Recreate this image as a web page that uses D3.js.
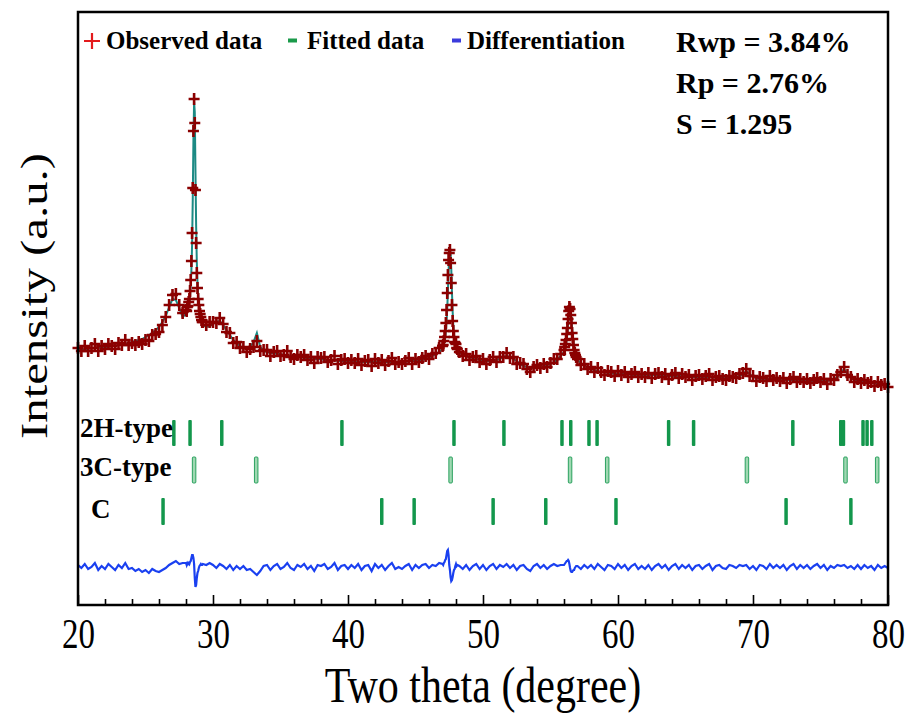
<!DOCTYPE html>
<html>
<head>
<meta charset="utf-8">
<script src="https://cdn.jsdelivr.net/npm/d3@7"></script>
<style>
body { margin: 0; background: #fff; }
text { font-family: "Liberation Serif", "Times New Roman", serif; }
</style>
</head>
<body>
<div id="chart"></div>
<script>
// pattern on a 0.25 degree grid from 20 to 80
var gridStart = 20, gridStep = 0.25;
var fitGrid = [
  255,255,256,256,257,257,257,258,
  258,258,259,259,260,261,261,262,
  263,264,265,266,268,270,272,275,
  278,283,289,298,306,305,297,288,
  291,303,405,380,293,280,278,279,
  281,283,284,280,275,270,265,262,
  259,257,256,258,263,272,258,254,
  253,252,252,251,251,250,250,249,
  249,248,248,247,247,247,246,246,
  246,245,245,245,245,244,244,244,
  244,243,243,243,243,243,243,243,
  243,243,243,243,243,243,243,243,
  243,243,244,244,244,244,245,246,
  247,249,251,253,256,274,350,294,
  258,252,251,249,248,247,246,245,
  244,244,244,245,245,246,248,249,
  248,246,244,241,239,238,237,237,
  237,238,239,240,241,243,245,249,
  253,271,294,258,245,242,239,237,
  236,235,234,233,233,232,232,231,
  231,231,231,231,230,230,230,230,
  230,230,230,230,229,229,229,229,
  229,229,229,229,229,228,228,228,
  228,228,228,228,228,227,227,227,
  227,227,227,228,229,231,234,231,
  228,227,226,226,226,226,226,225,
  225,225,225,225,225,225,224,224,
  224,224,224,224,224,224,224,225,
  226,228,232,236,231,227,225,224,
  224,223,223,222,222,221,221,220,
  219];
var obsGrid = [
  257,254,259,254,257,261,254,259,
  256,261,259,256,262,260,265,260,
  262,260,263,261,265,264,270,271,
  273,280,288,300,310,311,300,292,
  295,306,417,362,294,283,280,283,
  283,282,287,281,273,272,262,263,
  257,258,253,256,258,264,254,255,
  255,249,253,254,249,250,254,248,
  246,250,248,250,245,248,242,248,
  247,248,243,245,249,241,245,246,
  242,245,242,246,240,244,245,239,
  246,242,245,240,244,247,241,243,
  241,244,247,241,246,243,247,249,
  246,251,252,257,259,282,352,284,
  261,253,249,251,245,248,249,243,
  246,241,245,248,243,248,248,252,
  247,248,241,242,241,236,233,238,
  240,237,241,238,242,246,246,251,
  255,277,290,255,246,240,241,236,
  238,233,237,233,230,234,233,229,
  234,230,233,228,231,233,228,231,
  228,232,227,231,232,228,231,226,
  230,232,227,231,228,230,225,229,
  230,226,229,231,225,228,229,226,
  225,229,228,227,231,232,236,229,
  229,224,228,227,224,229,225,227,
  224,227,222,226,228,223,226,223,
  226,222,225,227,223,226,221,226,
  225,230,233,238,230,228,223,226,
  222,225,222,223,219,223,220,221,
  218];

// finer steps across the three strong peaks
var peakStep = 0.05;
var peak1Start = 28.0;
var peak1Fit = [291,292,294,296,299,303,309,319,335,360,405,465,503,493,435,380,343,323,310,301,293,289,285,283,281];
var peak1Obs = [295,294,298,299,303,306,314,325,344,372,417,474,506,482,415,362,332,317,306,300,294,291,288,285,283];
var peak2Start = 47.0;
var peak2Fit = [256,258,260,263,267,274,283,296,313,333,350,358,352,336,313,294,280,271,265,261,258,256,254];
var peak2Obs = [259,260,264,268,274,282,295,312,330,345,352,355,342,322,300,284,274,268,263,262,261,257,256];
var peak3Start = 56.0;
var peak3Fit = [253,255,257,260,265,271,279,288,295,297,294,287,277,270,263,258,253,250,247];
var peak3Obs = [255,258,261,265,271,277,286,294,298,296,290,282,272,266,260,255,252,250,248];

// reflection positions
var pos2H = [27.1,28.3,30.65,39.55,47.85,51.55,55.85,56.5,57.85,58.45,63.75,65.6,72.95,76.5,76.7,78.15,78.45,78.8];
var pos3C = [28.6,33.2,47.6,56.45,59.2,69.55,76.85,79.2];
var posC = [26.3,42.5,44.9,50.75,54.65,59.85,72.45,77.25];

var xMajor = [20,30,40,50,60,70,80];
var xMinor = [22,24,26,28,32,34,36,38,42,44,46,48,52,54,56,58,62,64,66,68,72,74,76,78];

var diffZero = 38;

var W = 909, H = 713;
var plot = {left: 78, right: 888, top: 12, bottom: 605};

var svg = d3.select("#chart").append("svg")
    .attr("width", W)
    .attr("height", H);

var x = d3.scaleLinear().domain([20, 80]).range([plot.left, plot.right]);
var y = d3.scaleLinear().domain([0, 593]).range([plot.bottom, plot.top]);

// merge grid + peak windows
var pts = [];
var seen = {};
function addPt(t, f, o) {
    t = +t.toFixed(2);
    if (seen[t]) return;
    seen[t] = true;
    pts.push({t: t, fit: f, obs: o});
}
fitGrid.forEach(function(f, i) { addPt(gridStart + i * gridStep, f, obsGrid[i]); });
[[peak1Start, peak1Fit, peak1Obs], [peak2Start, peak2Fit, peak2Obs], [peak3Start, peak3Fit, peak3Obs]]
    .forEach(function(p) {
        p[1].forEach(function(f, i) { addPt(p[0] + i * peakStep, f, p[2][i]); });
    });
pts.sort(function(a, b) { return a.t - b.t; });

// fitted line (under the observed crosses)
var fitLine = d3.line()
    .x(function(d) { return x(d.t); })
    .y(function(d) { return y(d.fit); });
svg.append("path")
    .datum(pts)
    .attr("d", fitLine)
    .attr("fill", "none")
    .attr("stroke", "#1c8a84")
    .attr("stroke-width", 2);

// observed crosses
svg.append("g").selectAll("path")
    .data(pts).enter()
    .append("path")
    .attr("transform", function(d) { return "translate(" + x(d.t) + "," + y(d.obs) + ")"; })
    .attr("d", "M-5.5,0H5.5M0,-6V6")
    .attr("stroke", "#8b0000")
    .attr("stroke-width", 2.6);

// difference curve
var diffLine = d3.line()
    .x(function(d) { return x(d.t); })
    .y(function(d) { return y(diffZero + d.obs - d.fit); });
svg.append("path")
    .datum(pts)
    .attr("d", diffLine)
    .attr("fill", "none")
    .attr("stroke", "#1a40f0")
    .attr("stroke-width", 2.2);

// reflection ticks
function tickRow(list, top, h, style) {
    var g = svg.append("g");
    g.selectAll("rect")
        .data(list).enter()
        .append("rect")
        .attr("x", function(d) { return x(d) - 1.75; })
        .attr("y", top)
        .attr("width", 3.5)
        .attr("height", h)
        .attr("rx", 1)
        .attr("fill", style.fill)
        .attr("stroke", style.stroke || "none")
        .attr("stroke-width", style.sw || 0);
}
tickRow(pos2H, 420, 26, {fill: "#13974c"});
tickRow(pos3C, 457, 26, {fill: "#9fd8b2", stroke: "#1a9a52", sw: 0.9});
tickRow(posC, 498, 27, {fill: "#13974c"});

svg.append("text").attr("x", 80).attr("y", 437).attr("font-size", 27).attr("font-weight", "bold").text("2H-type");
svg.append("text").attr("x", 80).attr("y", 476).attr("font-size", 27).attr("font-weight", "bold").text("3C-type");
svg.append("text").attr("x", 91).attr("y", 518).attr("font-size", 27).attr("font-weight", "bold").text("C");

// frame
svg.append("rect")
    .attr("x", plot.left).attr("y", plot.top)
    .attr("width", plot.right - plot.left)
    .attr("height", plot.bottom - plot.top)
    .attr("fill", "none")
    .attr("stroke", "#000")
    .attr("stroke-width", 2.5);

// x axis, ticks pointing inwards
var xAxis = svg.append("g")
    .attr("transform", "translate(0," + plot.bottom + ")")
    .call(d3.axisBottom(x).tickValues(xMajor).tickSize(-10).tickPadding(11).tickFormat(d3.format("d")));
xAxis.select(".domain").remove();
xAxis.selectAll(".tick line").attr("stroke-width", 1.6);
xAxis.selectAll(".tick text")
    .attr("font-family", "Liberation Serif")
    .attr("font-size", 33)
    .attr("fill", "#000")
    .attr("transform", "scale(1,1.25)");

var xMinorAxis = svg.append("g")
    .attr("transform", "translate(0," + plot.bottom + ")")
    .call(d3.axisBottom(x).tickValues(xMinor).tickSize(-6).tickFormat(""));
xMinorAxis.select(".domain").remove();
xMinorAxis.selectAll(".tick line").attr("stroke-width", 1.6);

// axis titles
svg.append("g")
    .attr("transform", "translate(" + ((plot.left + plot.right) / 2) + ",702) scale(1,1.2)")
    .append("text")
    .attr("text-anchor", "middle")
    .attr("font-size", 42)
    .text("Two theta (degree)");

svg.append("g")
    .attr("transform", "translate(47,296) rotate(-90) scale(1.32,1)")
    .append("text")
    .attr("text-anchor", "middle")
    .attr("font-size", 37)
    .text("Intensity (a.u.)");

// legend
svg.append("path").attr("d", "M84,41H100M92,33V49").attr("stroke", "#e31a1c").attr("stroke-width", 2.2);
svg.append("text").attr("x", 106).attr("y", 49).attr("font-size", 25).attr("font-weight", "bold").text("Observed data");
svg.append("rect").attr("x", 288).attr("y", 38.5).attr("width", 9).attr("height", 4).attr("fill", "#1a9a4a");
svg.append("text").attr("x", 307).attr("y", 49).attr("font-size", 25).attr("font-weight", "bold").text("Fitted data");
svg.append("rect").attr("x", 452).attr("y", 38.5).attr("width", 9).attr("height", 4).attr("fill", "#3b3bdc");
svg.append("text").attr("x", 467).attr("y", 49).attr("font-size", 25).attr("font-weight", "bold").text("Differentiation");

// fit statistics
var stats = ["Rwp = 3.84%", "Rp = 2.76%", "S = 1.295"];
svg.selectAll(".stat")
    .data(stats).enter()
    .append("text")
    .attr("class", "stat")
    .attr("x", 676)
    .attr("y", function(d, i) { return 52 + i * 41; })
    .attr("font-size", 30)
    .attr("font-weight", "bold")
    .text(function(d) { return d; });
</script>
</body>
</html>
